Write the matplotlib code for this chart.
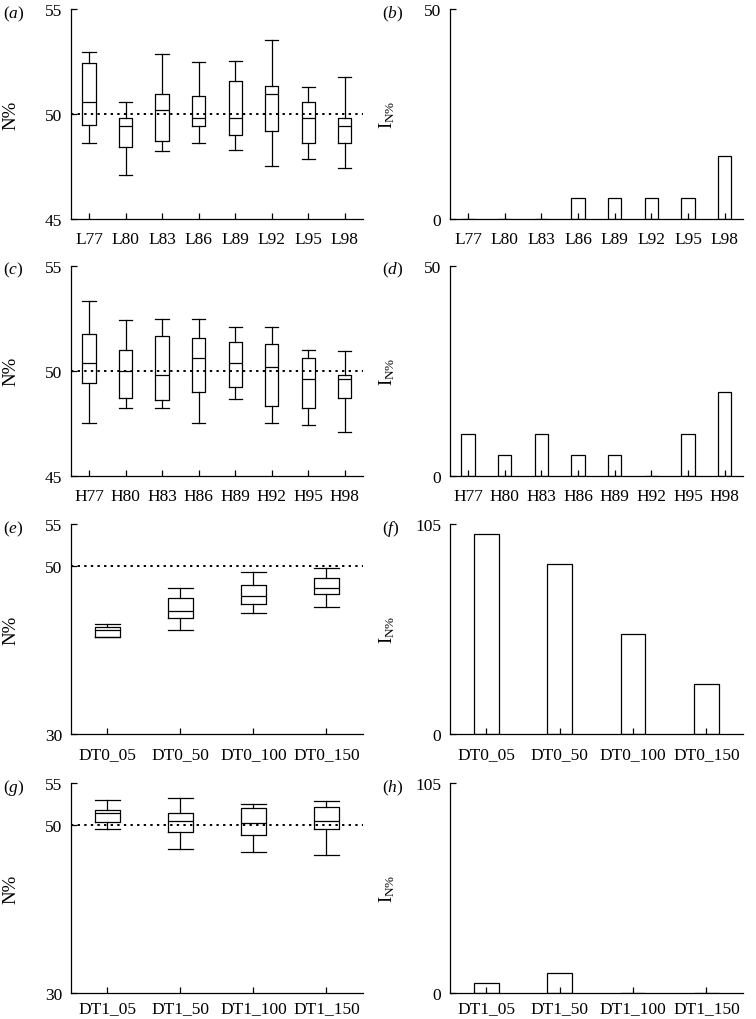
import matplotlib
matplotlib.use("Agg")
import matplotlib.pyplot as plt

plt.rcParams['font.family'] = ['Liberation Serif', 'DejaVu Serif']
plt.rcParams['mathtext.fontset'] = 'custom'
plt.rcParams['mathtext.rm'] = 'Liberation Serif'
plt.rcParams['mathtext.it'] = 'Liberation Serif:italic'

# ---- data ----
l_labels = ['L77', 'L80', 'L83', 'L86', 'L89', 'L92', 'L95', 'L98']
l_whislo = [48.6, 47.1, 48.22, 48.63, 48.27, 47.52, 47.87, 47.44]
l_q1 = [49.48, 48.43, 48.71, 49.41, 49.0, 49.19, 48.6, 48.6]
l_med = [50.56, 49.43, 50.19, 49.81, 49.81, 50.95, 49.81, 49.41]
l_q3 = [52.43, 49.79, 50.95, 50.86, 51.56, 51.35, 50.56, 49.79]
l_whishi = [52.94, 50.57, 52.84, 52.46, 52.54, 53.54, 51.3, 51.75]
l_index = [0, 0, 0, 5, 5, 5, 5, 15]

h_labels = ['H77', 'H80', 'H83', 'H86', 'H89', 'H92', 'H95', 'H98']
h_whislo = [47.52, 48.22, 48.22, 47.52, 48.65, 47.49, 47.43, 47.1]
h_q1 = [49.4, 48.71, 48.62, 49.0, 49.21, 48.33, 48.22, 48.71]
h_med = [50.38, 49.97, 49.79, 50.59, 50.38, 50.19, 49.59, 49.59]
h_q3 = [51.73, 50.97, 51.63, 51.54, 51.35, 51.25, 50.59, 49.79]
h_whishi = [53.3, 52.41, 52.44, 52.44, 52.1, 52.1, 50.97, 50.92]
h_index = [10, 5, 10, 5, 5, 0, 10, 20]

dt0_labels = ['DT0_05', 'DT0_50', 'DT0_100', 'DT0_150']
dt0_whislo = [41.59, 42.43, 44.39, 45.15]
dt0_q1 = [41.59, 43.86, 45.5, 46.7]
dt0_med = [42.39, 44.66, 46.46, 47.41]
dt0_q3 = [42.78, 46.21, 47.73, 48.61]
dt0_whishi = [43.1, 47.37, 49.32, 49.8]
dt0_index = [100, 85, 50, 25]

dt1_labels = ['DT1_05', 'DT1_50', 'DT1_100', 'DT1_150']
dt1_whislo = [49.51, 47.12, 46.84, 46.44]
dt1_q1 = [50.3, 49.15, 48.83, 49.47]
dt1_med = [51.42, 50.42, 50.19, 50.42]
dt1_q3 = [51.82, 51.38, 51.98, 52.09]
dt1_whishi = [52.93, 53.25, 52.53, 52.89]
dt1_index = [5, 10, 0, 0]

FS = 12.5
LW = 0.9

fig = plt.figure(figsize=(7.56, 10.2), dpi=100)

W, H = 756.0, 1020.0
col_left = [70.7, 449.7]
col_width = [292.3, 293.3]
row_top = [10, 266.7, 525, 784]
row_h = 210
row_xpad = [9, 9, 9, 5]


def make_ax(r, c):
    ax = fig.add_axes([col_left[c] / W, 1 - (row_top[r] + row_h) / H,
                       col_width[c] / W, row_h / H])
    for s in ['top', 'right']:
        ax.spines[s].set_visible(False)
    for s in ['left', 'bottom']:
        ax.spines[s].set_linewidth(LW)
    ax.tick_params(direction='in', length=4.5, width=LW, labelsize=FS, pad=6)
    ax.tick_params(axis='x', pad=row_xpad[r])
    return ax


def panel_label(ax, letter, c):
    pos = ax.get_position()
    fig.text(pos.x0 - 68 / W, pos.y1 - 4 / H, r'$(\mathit{%s})$' % letter,
             fontsize=FS, va='center', ha='left')


def box_panel(ax, labels, lo, q1, med, q3, hi, ylim, yticks, width):
    stats = []
    for i in range(len(labels)):
        stats.append(dict(whislo=lo[i], q1=q1[i], med=med[i], q3=q3[i],
                          whishi=hi[i], fliers=[]))
    pos = list(range(1, len(labels) + 1))
    lp = dict(color='black', linewidth=LW)
    ax.bxp(stats, positions=pos, widths=width, showfliers=False,
           boxprops=lp, whiskerprops=lp, capprops=lp, medianprops=lp,
           capwidths=width)
    ax.axhline(50, color='black', linestyle=(0, (1.2, 2.2)), linewidth=1.4)
    ax.set_xlim(0.5, len(labels) + 0.5)
    ax.set_ylim(*ylim)
    ax.set_yticks(yticks)
    ax.set_xticks(pos)
    ax.set_xticklabels(labels)
    ax.set_ylabel('N%', fontsize=FS + 1)
    ax.yaxis.set_label_coords(-0.174, 0.5)


def bar_panel(ax, labels, vals, ymax, width):
    pos = list(range(1, len(labels) + 1))
    ax.bar(pos, vals, width=width, facecolor='white', edgecolor='black',
           linewidth=LW, zorder=1)
    ax.set_xlim(0.5, len(labels) + 0.5)
    ax.set_ylim(0, ymax)
    ax.set_yticks([0, ymax])
    ax.set_xticks(pos)
    ax.set_xticklabels(labels)
    ax.set_ylabel(r'$\mathrm{I}_{\mathrm{N\%}}$', fontsize=FS + 1)
    ax.yaxis.set_label_coords(-0.18, 0.5)


ax = make_ax(0, 0)
box_panel(ax, l_labels, l_whislo, l_q1, l_med, l_q3, l_whishi, (45, 55), [45, 50, 55], 0.36)
panel_label(ax, 'a', 0)

ax = make_ax(0, 1)
bar_panel(ax, l_labels, l_index, 50, 0.36)
panel_label(ax, 'b', 1)

ax = make_ax(1, 0)
box_panel(ax, h_labels, h_whislo, h_q1, h_med, h_q3, h_whishi, (45, 55), [45, 50, 55], 0.36)
panel_label(ax, 'c', 0)

ax = make_ax(1, 1)
bar_panel(ax, h_labels, h_index, 50, 0.36)
panel_label(ax, 'd', 1)

ax = make_ax(2, 0)
box_panel(ax, dt0_labels, dt0_whislo, dt0_q1, dt0_med, dt0_q3, dt0_whishi, (30, 55), [30, 50, 55], 0.34)
panel_label(ax, 'e', 0)

ax = make_ax(2, 1)
bar_panel(ax, dt0_labels, dt0_index, 105, 0.34)
panel_label(ax, 'f', 1)

ax = make_ax(3, 0)
box_panel(ax, dt1_labels, dt1_whislo, dt1_q1, dt1_med, dt1_q3, dt1_whishi, (30, 55), [30, 50, 55], 0.34)
panel_label(ax, 'g', 0)

ax = make_ax(3, 1)
bar_panel(ax, dt1_labels, dt1_index, 105, 0.34)
panel_label(ax, 'h', 1)

fig.savefig('out.png', dpi=100)
